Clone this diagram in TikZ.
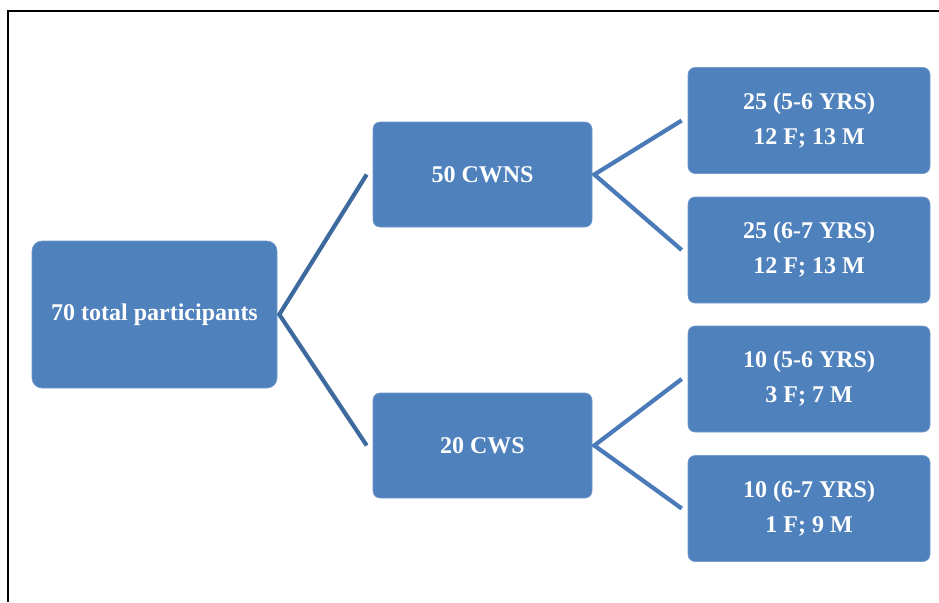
\documentclass[tikz,border=0pt]{standalone}
\usepackage{fontspec}
\setmainfont{Liberation Serif}
\usetikzlibrary{calc}
\definecolor{boxblue}{HTML}{4F81BD}
\definecolor{linkdark}{HTML}{3D6A9E}
\definecolor{linklight}{HTML}{4A7BB8}
\tikzset{
  box/.style={fill=boxblue, draw=boxblue!80!white, line width=0.6pt, rounded corners=7pt,
    text=white, font=\fontsize{24}{35}\selectfont\bfseries, align=center, inner sep=0pt},
  rootbox/.style={box, rounded corners=10pt, minimum width=245pt, minimum height=147pt},
  midbox/.style={box, minimum width=219pt, minimum height=105pt},
  leafbox/.style={box, minimum width=242pt, minimum height=106pt},
  linkA/.style={draw=linkdark, line width=4.2pt, line join=miter},
  linkB/.style={draw=linklight, line width=4.2pt, line join=miter},
}
\begin{document}
\begin{tikzpicture}[x=1pt,y=-1pt]
\useasboundingbox (0,0) rectangle (939,602);
\draw[black, line width=2pt] (8,602) -- (8,11) -- (939,11);
\node[rootbox] (root) at (154.5,314.5) {70 total participants};
\node[midbox] (cwns) at (482.5,174.5) {50 CWNS};
\node[midbox] (cws) at (482.5,445.5) {20 CWS};
\node[leafbox] (l1) at (809,120.5) {25 (5-6 YRS)\\12 F; 13 M};
\node[leafbox] (l2) at (809,250) {25 (6-7 YRS)\\12 F; 13 M};
\node[leafbox] (l3) at (809,379) {10 (5-6 YRS)\\3 F; 7 M};
\node[leafbox] (l4) at (809,508.5) {10 (6-7 YRS)\\1 F; 9 M};
\draw[linkA] ($(cwns.west)+(-6,0)$) -- ($(root.east)+(2,0)$) -- ($(cws.west)+(-6,0)$);
\draw[linkB] ($(l1.west)+(-6,0)$) -- ($(cwns.east)+(2,0)$) -- ($(l2.west)+(-6,0)$);
\draw[linkB] ($(l3.west)+(-6,0)$) -- ($(cws.east)+(2,0)$) -- ($(l4.west)+(-6,0)$);
\end{tikzpicture}
\end{document}
